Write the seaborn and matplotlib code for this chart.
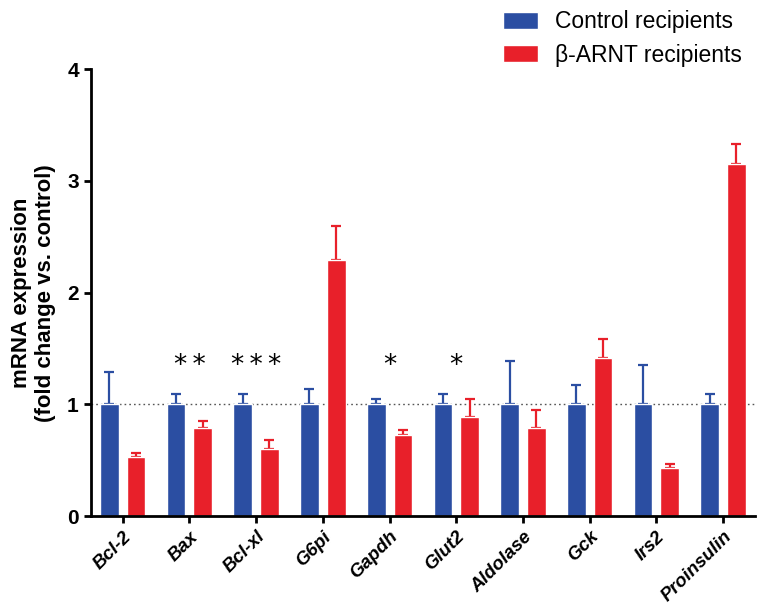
import pandas as pd
import matplotlib.pyplot as plt
import seaborn as sns

genes = ['Bcl-2', 'Bax', 'Bcl-xl', 'G6pi', 'Gapdh', 'Glut2', 'Aldolase', 'Gck', 'Irs2', 'Proinsulin']
ctrl_mean = [1.0, 1.0, 1.0, 1.0, 1.0, 1.0, 1.0, 1.0, 1.0, 1.0]
ctrl_err = [0.29, 0.09, 0.09, 0.14, 0.05, 0.09, 0.39, 0.17, 0.35, 0.09]
arnt_mean = [0.53, 0.79, 0.60, 2.29, 0.73, 0.89, 0.79, 1.42, 0.43, 3.15]
arnt_err = [0.04, 0.06, 0.08, 0.31, 0.04, 0.16, 0.16, 0.17, 0.04, 0.18]
stars = ['', '**', '***', '', '*', '*', '', '', '', '']
groups = ['Control recipients', 'β-ARNT recipients']
colors = ['#2B4EA2', '#E8202A']

df = pd.DataFrame({
    'gene': genes * 2,
    'group': [groups[0]] * len(genes) + [groups[1]] * len(genes),
    'value': ctrl_mean + arnt_mean,
    'err': ctrl_err + arnt_err,
})

sns.set_style('white')
plt.rcParams['font.family'] = ['Liberation Sans', 'DejaVu Sans']
plt.rcParams['text.color'] = 'black'
plt.rcParams['axes.labelcolor'] = 'black'
plt.rcParams['xtick.color'] = 'black'
plt.rcParams['ytick.color'] = 'black'

fig = plt.figure(figsize=(7.62, 6.11), dpi=100)
ax = fig.add_axes([0.119, 0.155, 0.872, 0.732])

sns.barplot(data=df, x='gene', y='value', hue='group', palette=colors,
            gap=0.3, width=0.8, errorbar=None, ax=ax, saturation=1)

errs = [ctrl_err, arnt_err]
for container, err, col in zip(ax.containers, errs, colors):
    xs = [b.get_x() + b.get_width() / 2 for b in container]
    ys = [b.get_height() for b in container]
    ax.errorbar(xs, ys, yerr=[[0] * len(err), err], fmt='none', ecolor=col,
                elinewidth=1.6, capsize=3.6, capthick=1.6, zorder=0.5)

# significance marks
for i, s in enumerate(stars):
    if s:
        ax.text(i, 1.34, '\u2009'.join(s), ha='center', va='center', fontsize=19,
                family='DejaVu Sans')

ax.axhline(1.0, color='#555555', linestyle=(0, (1.2, 2.2)), linewidth=1, zorder=0)

ax.set_ylim(0, 4)
ax.set_xlim(-0.48, 9.48)
ax.set_yticks([0, 1, 2, 3, 4])
ax.set_xlabel('')
ax.set_ylabel('mRNA expression\n(fold change vs. control)', fontsize=16, fontweight='bold', labelpad=8)
ax.set_xticks(range(len(genes)))
ax.set_xticklabels(genes, rotation=45, ha='right', rotation_mode='anchor',
                   fontsize=13.5, fontweight='bold', fontstyle='italic')
for lab in ax.get_yticklabels():
    lab.set_fontsize(15)
    lab.set_fontweight('bold')
ax.tick_params(axis='both', direction='out', length=5, width=2, color='black', bottom=True, left=True)
for side in ['top', 'right']:
    ax.spines[side].set_visible(False)
for side in ['left', 'bottom']:
    ax.spines[side].set_linewidth(2)
    ax.spines[side].set_color('black')

ax.legend(loc='upper right', bbox_to_anchor=(0.987, 1.0), bbox_transform=fig.transFigure,
          frameon=False, fontsize=16.5, handlelength=1.5, handleheight=0.75,
          labelspacing=0.45, handletextpad=0.75, borderaxespad=0.05)

fig.savefig('out.png', dpi=100)
